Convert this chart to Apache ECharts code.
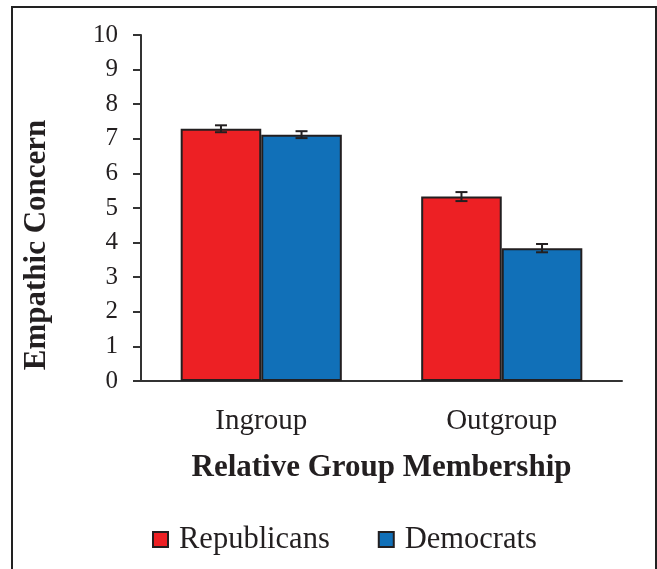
<!DOCTYPE html>
<html>
<head>
<meta charset="utf-8">
<script src="https://cdn.jsdelivr.net/npm/echarts@6/dist/echarts.min.js"></script>
<style>
  html, body { margin: 0; padding: 0; background: #fff; }
  #chart { width: 657px; height: 569px; }
</style>
</head>
<body>
<div id="chart"></div>
<script>
// Mean empathic concern by relative group membership
const categories = ['Ingroup', 'Outgroup'];
const republicans = [7.29, 5.33];
const democrats = [7.12, 3.84];
// Standard error half-widths for each bar
const republicansErr = [0.10, 0.13];
const democratsErr = [0.10, 0.12];
const yTicks = [0, 1, 2, 3, 4, 5, 6, 7, 8, 9, 10];

const RED = '#ED2024';
const BLUE = '#1170B8';
const INK = '#231F20';
const FONT = '"Liberation Serif", "Times New Roman", serif';

const chart = echarts.init(document.getElementById('chart'), null, { renderer: 'canvas' });

function errorSeries(name, values, errs, seriesIndex) {
  return {
    type: 'custom',
    name: name + ' error',
    z: 10,
    silent: true,
    data: values.map((v, i) => [i, v - errs[i], v + errs[i]]),
    renderItem: function (params, api) {
      const cat = api.value(0);
      const lo = api.coord([cat, api.value(1)]);
      const hi = api.coord([cat, api.value(2)]);
      const size = api.size([1, 0]);
      const catW = size[0];
      const barW = catW * 0.335;
      const cx = lo[0] + (seriesIndex === 0 ? -barW / 2 : barW / 2);
      const cap = 6;
      const style = { stroke: INK, lineWidth: 2 };
      return {
        type: 'group',
        children: [
          { type: 'line', shape: { x1: cx, y1: lo[1], x2: cx, y2: hi[1] }, style: style },
          { type: 'line', shape: { x1: cx - cap, y1: lo[1], x2: cx + cap, y2: lo[1] }, style: style },
          { type: 'line', shape: { x1: cx - cap, y1: hi[1], x2: cx + cap, y2: hi[1] }, style: style }
        ]
      };
    }
  };
}

chart.setOption({
  animation: false,
  backgroundColor: '#fff',
  textStyle: { fontFamily: FONT, color: INK },
  grid: { left: 141, right: 35, top: 35, bottom: 188, containLabel: false },
  legend: {
    bottom: 9,
    left: 147,
    itemWidth: 15,
    itemHeight: 15,
    itemGap: 48,
    icon: 'rect',
    data: ['Republicans', 'Democrats'],
    textStyle: { fontFamily: FONT, fontSize: 30.5, color: INK, padding: [0, 0, 0, 6] }
  },
  xAxis: {
    type: 'category',
    data: categories,
    axisLine: { lineStyle: { color: '#333', width: 2 } },
    axisTick: { show: false },
    axisLabel: { fontFamily: FONT, fontSize: 29, color: INK, margin: 26 },
    name: 'Relative Group Membership',
    nameLocation: 'middle',
    nameGap: 71,
    nameTextStyle: { fontFamily: FONT, fontSize: 31, fontWeight: 'bold', color: INK }
  },
  yAxis: {
    type: 'value',
    min: yTicks[0],
    max: yTicks[yTicks.length - 1],
    interval: 1,
    splitLine: { show: false },
    axisLine: { show: true, lineStyle: { color: '#333', width: 2 } },
    axisTick: { show: true, length: 8, lineStyle: { color: '#333', width: 2 } },
    axisLabel: { fontFamily: FONT, fontSize: 25, color: INK, margin: 23 }
  },
  graphic: [
    {
      type: 'rect',
      shape: { x: 12, y: 7, width: 644, height: 600 },
      style: { fill: 'none', stroke: '#222', lineWidth: 2 },
      z: -1
    },
    {
      type: 'text',
      x: 37,
      y: 245,
      rotation: Math.PI / 2,
      style: {
        text: 'Empathic Concern',
        font: 'bold 31px ' + FONT,
        fill: INK,
        align: 'center',
        verticalAlign: 'middle'
      }
    }
  ],
  series: [
    {
      name: 'Republicans',
      type: 'bar',
      data: republicans,
      barWidth: '33.5%',
      barGap: '0%',
      itemStyle: { color: RED, borderColor: INK, borderWidth: 2 }
    },
    {
      name: 'Democrats',
      type: 'bar',
      data: democrats,
      barWidth: '33.5%',
      barGap: '0%',
      itemStyle: { color: BLUE, borderColor: INK, borderWidth: 2 }
    },
    errorSeries('Republicans', republicans, republicansErr, 0),
    errorSeries('Democrats', democrats, democratsErr, 1)
  ]
});
</script>
</body>
</html>
